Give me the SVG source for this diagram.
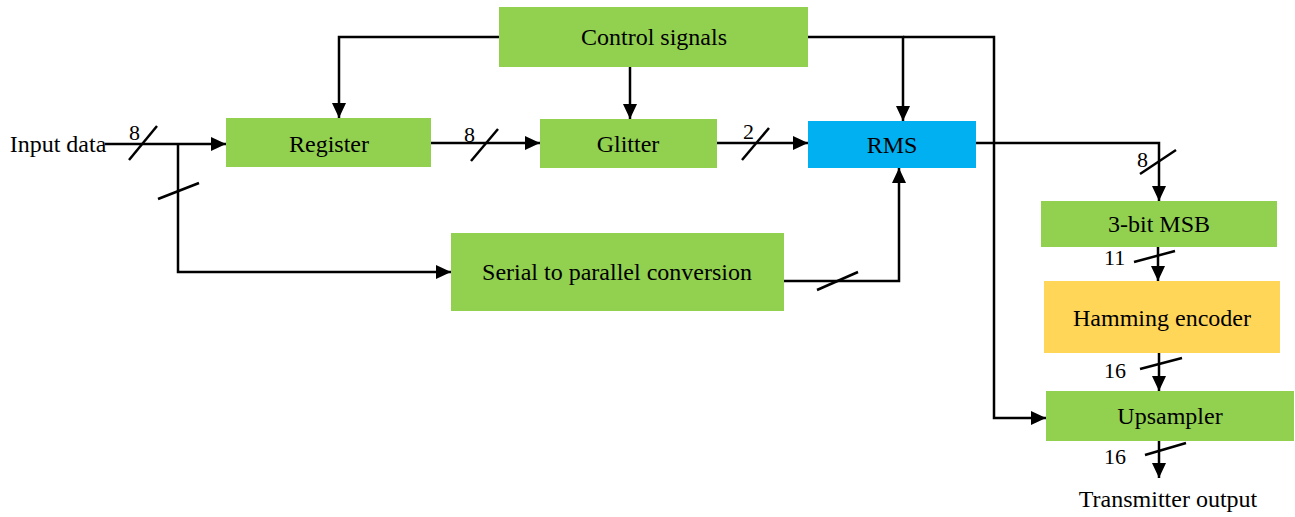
<svg xmlns="http://www.w3.org/2000/svg" width="1295" height="517" viewBox="0 0 1295 517">
<style>
.box{stroke:none}
.g{fill:#92D050}
.b{fill:#00B0F0}
.y{fill:#FFD658}
.t{font-size:24px;fill:#000;text-anchor:middle}
.n{font-size:22px;fill:#000}
.w{fill:none;stroke:#000;stroke-width:2.5}
.a{marker-end:url(#ah)}
</style>
<defs>
<marker id="ah" markerUnits="userSpaceOnUse" markerWidth="16" markerHeight="14" refX="15" refY="7" orient="auto">
<path d="M0,0 L15,7 L0,14 z" fill="#000"/>
</marker>
</defs>
<rect width="1295" height="517" fill="#fff"/>

<g id="connectors" font-family="Liberation Serif, DejaVu Serif, serif">
<path class="w a" d="M105,144 H226"/>
<path class="w a" d="M178,144 V272 H451"/>
<path class="w a" d="M431,143 H540"/>
<path class="w a" d="M717,143 H808"/>
<path class="w a" d="M499,37 H339 V118"/>
<path class="w a" d="M630,66 V119"/>
<path class="w a" d="M808,37 H903 V121"/>
<path class="w a" d="M903,37 H994 V418 H1046"/>
<path class="w a" d="M976,143 H1159 V201"/>
<path class="w a" d="M784,281 H899 V168"/>
<path class="w a" d="M1158,247 V281"/>
<path class="w a" d="M1159,353 V391"/>
<path class="w a" d="M1159,441 V478"/>
<path class="w" d="M129,160 L157,126"/>
<path class="w" d="M158,199 L199,183"/>
<path class="w" d="M471,161 L498,129"/>
<path class="w" d="M742,160 L769,128"/>
<path class="w" d="M817,290 L858,272"/>
<path class="w" d="M1140,174 L1176,150"/>
<path class="w" d="M1134,262 L1175,251"/>
<path class="w" d="M1140,369 L1182,358"/>
<path class="w" d="M1145,455 L1186,443"/>
<text class="n" x="129" y="140">8</text>
<text class="n" x="464" y="142">8</text>
<text class="n" x="743" y="139">2</text>
<text class="n" x="1137" y="167">8</text>
<text class="n" x="1104" y="265">11</text>
<text class="n" x="1104" y="378">16</text>
<text class="n" x="1104" y="464">16</text>
</g>

<g font-family="Liberation Serif, DejaVu Serif, serif">
<g id="input"><text class="t" x="58" y="152">Input data</text></g>
<g id="control"><rect class="box g" x="499" y="7" width="309" height="60"/><text class="t" x="654" y="45">Control signals</text></g>
<g id="register"><rect class="box g" x="226" y="118" width="205" height="49"/><text class="t" x="329" y="152">Register</text></g>
<g id="glitter"><rect class="box g" x="540" y="119" width="177" height="49"/><text class="t" x="628" y="152">Glitter</text></g>
<g id="rms"><rect class="box b" x="808" y="121" width="168" height="47"/><text class="t" x="892" y="153">RMS</text></g>
<g id="serial"><rect class="box g" x="451" y="233" width="333" height="78"/><text class="t" x="617" y="280">Serial to parallel conversion</text></g>
<g id="msb"><rect class="box g" x="1041" y="201" width="236" height="46"/><text class="t" x="1159" y="232">3-bit MSB</text></g>
<g id="hamming"><rect class="box y" x="1044" y="281" width="236" height="72"/><text class="t" x="1162" y="326">Hamming encoder</text></g>
<g id="upsampler"><rect class="box g" x="1046" y="391" width="248" height="50"/><text class="t" x="1170" y="424">Upsampler</text></g>
<g id="output"><text class="t" x="1168" y="507">Transmitter output</text></g>
</g>
</svg>
